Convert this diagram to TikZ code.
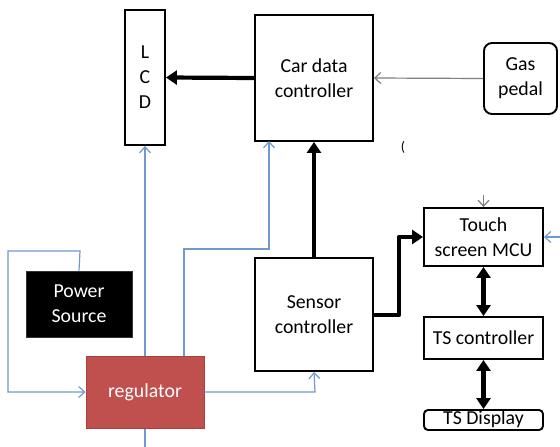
\documentclass[tikz,border=0pt]{standalone}
\usepackage{fontspec}
\setmainfont{Carlito}
\usetikzlibrary{arrows.meta,positioning}
\definecolor{wire}{HTML}{7199CD}
\definecolor{regfill}{HTML}{C0504D}
\definecolor{regborder}{HTML}{A9413E}
\definecolor{pedalwire}{HTML}{7F7F7F}
\begin{document}
\begin{tikzpicture}[x=1pt,y=-1pt,
  every node/.style={font=\fontsize{19.8}{25}\selectfont, align=center, inner sep=0pt},
  blk/.style={draw=black, line width=1.9pt, fill=white},
  thick arrow/.style={line width=4.2pt, -{Triangle[length=11pt,width=14pt]}},
  thick darrow/.style={line width=4.2pt, {Triangle[length=11pt,width=14pt]}-{Triangle[length=11pt,width=14pt]}},
  wirearrow/.style={draw=wire, line width=1.2pt, -{Straight Barb[length=6pt,width=11pt]}},
  wireline/.style={draw=wire, line width=1.2pt},
  grayarrow/.style={draw=pedalwire, line width=1.2pt, -{Straight Barb[length=6pt,width=11pt]}}
]
\useasboundingbox (0,0) rectangle (560,447);
\fill[white] (0,0) rectangle (560,447);

% nodes
\node[blk, minimum width=40pt, minimum height=135pt] (lcd) at (145,77.5) {L\\C\\D};
\node[blk, minimum width=118pt, minimum height=126pt] (car) at (314,78) {Car data\\controller};
\node[blk, rounded corners=8pt, minimum width=73pt, minimum height=71pt] (gas) at (520.5,78.5) {Gas\\pedal};
\node[blk, minimum width=119pt, minimum height=58pt] (touch) at (483.5,237) {Touch\\screen MCU};
\node[blk, minimum width=119pt, minimum height=42pt] (tsc) at (483.5,338) {TS controller};
\node[blk, rounded corners=4pt, minimum width=119pt, minimum height=20pt] (tsd) at (483.5,420) {};
\node at (483.5,419) {TS Display};
\node[blk, minimum width=118pt, minimum height=113pt] (sensor) at (314,314.5) {Sensor\\controller};
\node[fill=black, draw=black!80, line width=0.6pt, text=white, minimum width=106pt, minimum height=66pt] (power) at (79,304) {Power\\Source};
\node[fill=regfill, draw=regborder, line width=1pt, text=white, minimum width=118pt, minimum height=72pt] (reg) at (145,392) {regulator};
\node[font=\fontsize{14}{16}\selectfont] (paren) at (403,147) {(};

\coordinate (bottom) at (145,447);
\coordinate (topin) at (483.5,195);
\coordinate (rightin) at (560,237);

% thick black connectors
\draw[thick arrow] (car.west) -- (lcd.east);
\draw[thick arrow] (sensor.north) -- (car.south);
\draw[thick arrow, line join=round] (sensor.east |- 0,315) -- (399,315) -- (399,237) -- (touch.west);
\draw[thick darrow] (touch.south) -- (tsc.north);
\draw[thick darrow] (tsc.south) -- (tsd.north);

% gray connectors
\draw[grayarrow] (gas.west) -- (car.east);
\draw[grayarrow] (topin) -- (touch.north);

% blue wires
\draw[wirearrow] (rightin) -- (touch.east);
\draw[wirearrow] (power.north) -- (80,251) -- (8,251) -- (8,392) -- (reg.west);
\draw[wirearrow] (reg.north) -- (lcd.south);
\draw[wireline] (reg.south) -- (bottom);
\draw[wirearrow] (184,356) -- (184,249) -- (269,249) -- (269,141);
\draw[wirearrow] (reg.east) -- (315,392) -- (sensor.south);
\end{tikzpicture}
\end{document}
